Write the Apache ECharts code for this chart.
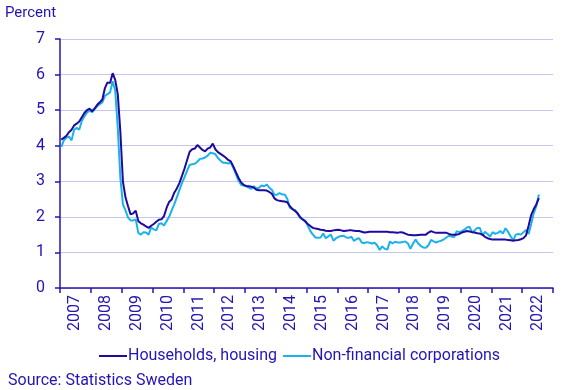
<!DOCTYPE html>
<html>
<head>
<meta charset="utf-8">
<script src="https://cdn.jsdelivr.net/npm/echarts@6/dist/echarts.min.js"></script>
<style>html,body{margin:0;padding:0;background:#fff}#c{width:568px;height:390px}</style>
</head>
<body>
<div id="c"></div>
<script>
var years = ['2007','2008','2009','2010','2011','2012','2013','2014','2015','2016','2017','2018','2019','2020','2021','2022'];
var yTicks = [0,1,2,3,4,5,6,7];
var seriesNames = ['Households, housing','Non-financial corporations'];

// Monthly values from Jan 2007 to Jul 2022
var households = [
 4.17,4.22,4.28,4.38,4.45,4.57,4.62,4.68,4.80,4.92,5.00,5.04,
 4.97,5.05,5.15,5.22,5.30,5.62,5.78,5.76,6.04,5.85,5.45,4.40,
 3.00,2.55,2.30,2.07,2.10,2.17,1.88,1.82,1.78,1.73,1.69,1.75,
 1.80,1.86,1.92,1.93,2.02,2.25,2.42,2.49,2.68,2.80,2.95,3.15,
 3.36,3.60,3.83,3.90,3.92,4.02,3.95,3.88,3.84,3.92,3.95,4.06,
 3.90,3.82,3.77,3.72,3.67,3.60,3.56,3.42,3.26,3.10,2.97,2.90,
 2.87,2.86,2.85,2.82,2.76,2.75,2.75,2.75,2.74,2.70,2.65,2.52,
 2.47,2.45,2.44,2.43,2.41,2.30,2.22,2.17,2.10,2.00,1.93,1.87,
 1.80,1.74,1.69,1.67,1.66,1.64,1.63,1.61,1.60,1.60,1.62,1.63,
 1.64,1.62,1.60,1.61,1.62,1.62,1.61,1.60,1.60,1.58,1.56,1.57,
 1.58,1.58,1.58,1.58,1.58,1.58,1.58,1.58,1.57,1.57,1.56,1.55,
 1.57,1.56,1.53,1.50,1.49,1.48,1.48,1.49,1.50,1.50,1.50,1.56,
 1.60,1.57,1.55,1.55,1.55,1.55,1.55,1.52,1.50,1.50,1.50,1.52,
 1.56,1.58,1.60,1.59,1.57,1.56,1.54,1.53,1.50,1.44,1.40,1.38,
 1.36,1.36,1.36,1.36,1.36,1.36,1.35,1.34,1.33,1.34,1.35,1.37,
 1.40,1.48,1.75,2.05,2.22,2.35,2.53
];
var corporations = [
 3.97,4.15,4.22,4.26,4.15,4.45,4.50,4.45,4.70,4.82,4.93,4.99,
 4.94,5.02,5.11,5.17,5.22,5.40,5.45,5.50,5.81,5.55,4.50,3.10,
 2.35,2.18,1.98,1.90,1.90,1.93,1.55,1.50,1.57,1.56,1.50,1.70,
 1.65,1.62,1.80,1.82,1.76,1.88,2.00,2.18,2.35,2.55,2.75,2.95,
 3.12,3.30,3.46,3.48,3.49,3.55,3.63,3.64,3.67,3.72,3.80,3.79,
 3.76,3.66,3.58,3.52,3.52,3.50,3.52,3.38,3.20,3.02,2.90,2.88,
 2.86,2.82,2.79,2.86,2.80,2.82,2.88,2.86,2.91,2.82,2.76,2.62,
 2.62,2.67,2.63,2.63,2.51,2.26,2.22,2.19,2.10,1.97,1.92,1.90,
 1.75,1.60,1.50,1.42,1.41,1.42,1.53,1.40,1.45,1.50,1.33,1.40,
 1.44,1.46,1.47,1.42,1.41,1.44,1.32,1.38,1.40,1.28,1.26,1.29,
 1.27,1.25,1.27,1.20,1.07,1.17,1.10,1.08,1.31,1.25,1.30,1.28,
 1.28,1.29,1.31,1.25,1.10,1.25,1.36,1.25,1.18,1.14,1.13,1.20,
 1.35,1.31,1.28,1.31,1.33,1.37,1.42,1.47,1.45,1.43,1.60,1.57,
 1.60,1.64,1.70,1.72,1.56,1.62,1.69,1.69,1.48,1.58,1.52,1.45,
 1.57,1.52,1.55,1.60,1.53,1.68,1.58,1.45,1.34,1.50,1.52,1.50,
 1.57,1.63,1.52,1.80,2.10,2.30,2.63
];

var months = [];
years.forEach(function(y){ for (var m = 1; m <= 12; m++) months.push(y + '-' + (m < 10 ? '0' + m : m)); });

var txt = '#2314B4';
var axisCol = '#2314B4';
var chart = echarts.init(document.getElementById('c'), null, {renderer: 'canvas'});
chart.setOption({
  animation: false,
  textStyle: {fontFamily: 'Roboto'},
  grid: {left: 60, right: 15, top: 39, bottom: 102, containLabel: false},
  title: [
    {text: 'Percent', left: 0, top: 1, textStyle: {fontFamily: 'Roboto', fontSize: 15, fontWeight: 'normal', color: txt}},
    {text: 'Source: Statistics Sweden', left: 3, top: 368, textStyle: {fontFamily: 'Roboto', fontSize: 16, fontWeight: 'normal', color: txt}}
  ],
  legend: {
    left: 94, top: 343, itemGap: 6, itemWidth: 28, itemHeight: 2, icon: 'rect',
    textStyle: {fontFamily: 'Roboto', fontSize: 16, color: txt, padding: [0,0,0,-4]},
    data: seriesNames
  },
  xAxis: [
    {type: 'category', data: years, boundaryGap: true,
     axisLine: {lineStyle: {color: axisCol, width: 1.5}},
     axisTick: {show: true, interval: 0, length: 5, lineStyle: {color: axisCol, width: 1.5}},
     axisLabel: {interval: 0, rotate: 90, margin: 7, fontFamily: 'Roboto', fontSize: 16, color: txt},
     splitLine: {show: false}},
    {type: 'category', data: months, boundaryGap: true, show: false}
  ],
  yAxis: {
    type: 'value', min: yTicks[0], max: yTicks[yTicks.length - 1], interval: 1,
    axisLine: {show: true, lineStyle: {color: axisCol, width: 1.5}},
    axisTick: {show: true, length: 5, lineStyle: {color: axisCol, width: 1.5}},
    axisLabel: {margin: 15, fontFamily: 'Roboto', fontSize: 16, color: txt},
    splitLine: {show: true, lineStyle: {color: '#C6C6EC', width: 1}}
  },
  series: [
    {name: seriesNames[0], type: 'line', xAxisIndex: 1, data: households, showSymbol: false, symbol: 'none',
     lineStyle: {color: '#1E0A9E', width: 2}, itemStyle: {color: '#1E0A9E'}, z: 3},
    {name: seriesNames[1], type: 'line', xAxisIndex: 1, data: corporations, showSymbol: false, symbol: 'none',
     lineStyle: {color: '#1BB2EA', width: 2}, itemStyle: {color: '#1BB2EA'}, z: 2}
  ]
});
</script>
</body>
</html>
